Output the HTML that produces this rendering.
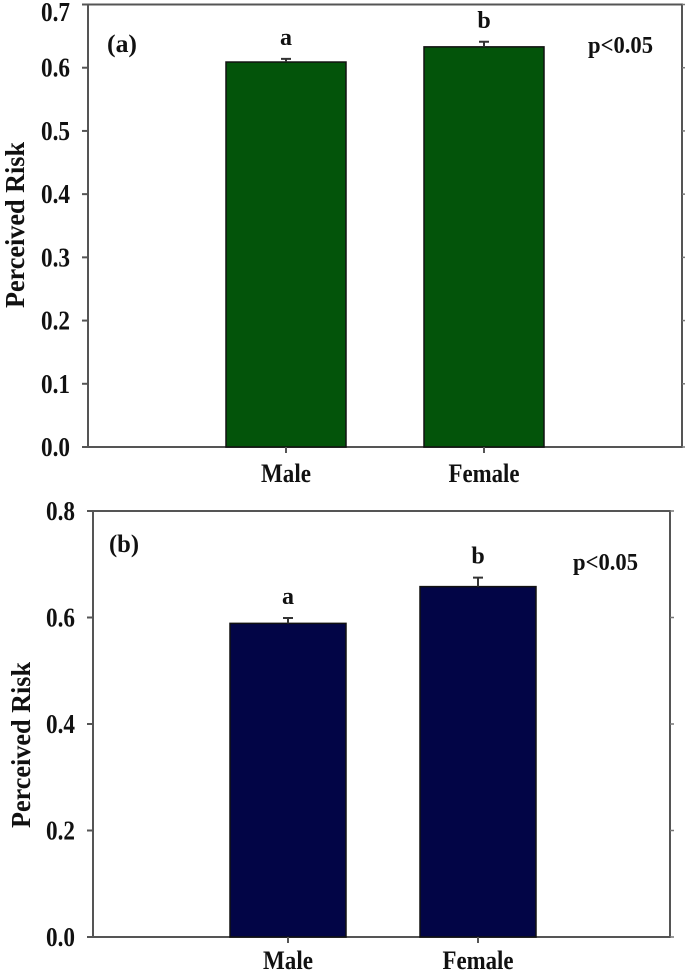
<!DOCTYPE html>
<html><head><meta charset="utf-8"><style>
html,body{margin:0;padding:0;background:#fff;}
svg{display:block;font-family:"Liberation Serif",serif;font-weight:bold;}
</style></head><body>
<svg id="chart" width="685" height="970" viewBox="0 0 685 970"></svg>
<script>
const categories = ["Male", "Female"];
const valuesA = [0.609, 0.633];
const errorsA = [0.005, 0.008];
const lettersA = ["a", "b"];
const ticksA = [0.0, 0.1, 0.2, 0.3, 0.4, 0.5, 0.6, 0.7];
const tickLabelsA = ["0.0", "0.1", "0.2", "0.3", "0.4", "0.5", "0.6", "0.7"];
const valuesB = [0.589, 0.658];
const errorsB = [0.010, 0.017];
const lettersB = ["a", "b"];
const ticksB = [0.0, 0.2, 0.4, 0.6, 0.8];
const tickLabelsB = ["0.0", "0.2", "0.4", "0.6", "0.8"];

const NS = "http://www.w3.org/2000/svg";
const svg = document.getElementById("chart");
function mk(tag, attrs, parent, text) {
  const e = document.createElementNS(NS, tag);
  for (const k in attrs) e.setAttribute(k, attrs[k]);
  if (text !== undefined) e.textContent = text;
  (parent || svg).appendChild(e);
  return e;
}
const labelW = {"Male": 50, "Female": 71};

function panel(cfg) {
  const g = mk("g", {});
  
  
  const y = v => cfg.bottom - (v - 0) / cfg.max * (cfg.bottom - cfg.top);
  const xc = i => cfg.centers[i];
  const frame = mk("rect", {x: cfg.left, y: cfg.top, width: cfg.right - cfg.left, height: cfg.bottom - cfg.top, fill: "none", stroke: "#555", "stroke-width": 2}, g);
  
  
  cfg.ticks.forEach((t, i) => {
    const yy = y(t);
    const tk = mk("line", {x1: cfg.left - 6, x2: cfg.left, y1: yy, y2: yy, stroke: "#555", "stroke-width": 2}, g);
    
    
    const rt = mk("line", {x1: cfg.right, x2: cfg.right + 4, y1: yy, y2: yy, stroke: "#777", "stroke-width": 1.5}, g);
    
    
    const ly = Math.max(yy + 9, 21);
    const lb = mk("text", {x: cfg.left - 47, y: ly, "font-size": 27, fill: "#111", textLength: 29, lengthAdjust: "spacingAndGlyphs"}, g, cfg.tickLabels[i]);
    
    
  });
  categories.forEach((c, i) => {
    const v = cfg.values[i], cx = xc(i);
    const bar = mk("rect", {x: cx - cfg.bw / 2, y: y(v), width: cfg.bw, height: y(0) - y(v), fill: cfg.color, stroke: "#111", "stroke-width": 1.5}, g);
    
    
    const et = y(v + cfg.errors[i]);
    const eb = mk("path", {d: `M${cx},${y(v)} V${et} M${cx - 5},${et} H${cx + 5}`, stroke: "#333", "stroke-width": 2, fill: "none"}, g);
    
    
    const lt = mk("text", {x: cx, y: et - 14, "text-anchor": "middle", "font-size": 24, fill: "#111"}, g, cfg.letters[i]);
    
    
    const xt = mk("line", {x1: cx, x2: cx, y1: cfg.bottom, y2: cfg.bottom + 6, stroke: "#555", "stroke-width": 2}, g);
    
    
    const xl = mk("text", {x: cx - labelW[c] / 2, y: cfg.xLabelY, "font-size": 26, fill: "#111", textLength: labelW[c], lengthAdjust: "spacingAndGlyphs"}, g, c);
    
    
  });
  const pl = mk("text", {x: cfg.panelX, y: cfg.panelY, "font-size": 25, fill: "#111", textLength: 30, lengthAdjust: "spacingAndGlyphs"}, g, cfg.panelLabel);
  
  
  const pv = mk("text", {x: cfg.pX, y: cfg.pY, "font-size": 24, fill: "#111", textLength: 65, lengthAdjust: "spacingAndGlyphs"}, g, "p<0.05");
  
  
  const yt = mk("text", {x: cfg.titleX, y: cfg.titleY, "text-anchor": "middle", "font-size": 27, fill: "#111", textLength: 166, lengthAdjust: "spacingAndGlyphs", transform: `rotate(-90 ${cfg.titleX} ${cfg.titleY})`}, g, "Perceived Risk");
  
  
}

panel({name: "panel-a", left: 88, right: 682, top: 4.5, bottom: 447, max: 0.7,
  centers: [286, 484], bw: 120, color: "#03540a",
  values: valuesA, errors: errorsA, letters: lettersA, ticks: ticksA, tickLabels: tickLabelsA,
  xLabelY: 482, panelLabel: "(a)", panelX: 107, panelY: 52, pX: 588, pY: 53, titleX: 24, titleY: 225});
panel({name: "panel-b", left: 93, right: 670, top: 511, bottom: 937, max: 0.8,
  centers: [288, 478], bw: 116, color: "#020546",
  values: valuesB, errors: errorsB, letters: lettersB, ticks: ticksB, tickLabels: tickLabelsB,
  xLabelY: 969, panelLabel: "(b)", panelX: 109, panelY: 552, pX: 573, pY: 570, titleX: 30, titleY: 745});
</script>
</body></html>
